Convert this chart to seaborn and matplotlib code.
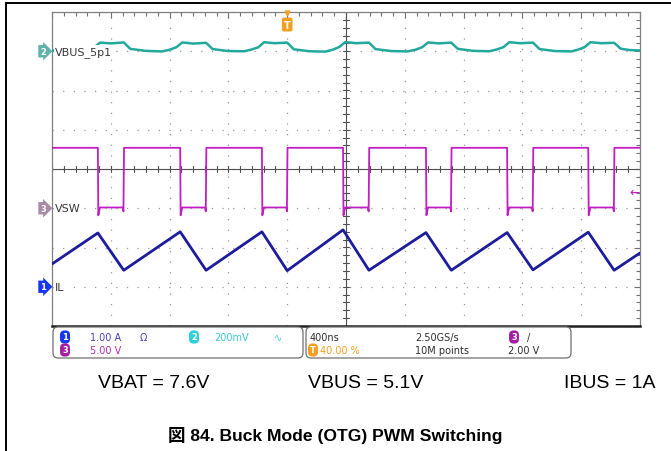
import numpy as np
import pandas as pd
import matplotlib
matplotlib.use("Agg")
import matplotlib.pyplot as plt
import seaborn as sns
from matplotlib.patches import FancyBboxPatch
from matplotlib.ticker import MultipleLocator

sns.set_style("white")
plt.rcParams["font.family"] = ["DejaVu Sans"]

# scope settings (read from the readout)
time_per_div = 400          # ns/div
t_left, t_right = -1600, 2400  # trigger at 40 % of screen
ch1_scale, ch1_pos = 1.00, -3.0            # IL   (A/div)
ch2_scale, ch2_pos, ch2_offset = 0.200, 3.0, 5.10  # VBUS (V/div)
ch3_scale, ch3_pos = 5.00, -1.0            # VSW  (V/div)
trig_level = 2.00

# VSW switching edges (ns)
vsw_fall = [-1288, -728, -172, 380, 944, 1496, 2048]
vsw_rise = [-1112, -552, 0, 556, 1116, 1672, 2224]
vsw_high = 7.7
vsw_low = 0.1
vsw_dip = -0.9

# inductor current vertices (ns, A)
il_t = [-1600, -1288, -1112, -728, -552, -172, 0, 380, 556, 944, 1116, 1496, 1672, 2048, 2224, 2400]
il_a = [0.58, 1.37, 0.42, 1.40, 0.42, 1.40, 0.41, 1.45, 0.42, 1.38, 0.42, 1.38, 0.43, 1.39, 0.42, 0.86]

# VBUS ripple vertices (ns, V)
vbus_t = [-1600, -1450, -1360,
          -1313, -1273, -1200, -1112, -1067, -962, -852, -798,
          -753, -713, -640, -552, -507, -402, -292, -242,
          -197, -157, -86, 0, 45, 150, 260, 310,
          355, 395, 468, 556, 601, 706, 816, 874,
          919, 959, 1030, 1116, 1161, 1266, 1376, 1426,
          1471, 1511, 1584, 1672, 1717, 1822, 1932, 1978,
          2023, 2063, 2136, 2224, 2269, 2330, 2400]
vbus_v = [5.104, 5.101, 5.108,
          5.120, 5.144, 5.140, 5.145, 5.112, 5.102, 5.099, 5.108,
          5.121, 5.145, 5.139, 5.143, 5.111, 5.101, 5.100, 5.109,
          5.120, 5.146, 5.141, 5.144, 5.110, 5.100, 5.098, 5.108,
          5.122, 5.147, 5.141, 5.144, 5.111, 5.101, 5.099, 5.108,
          5.121, 5.145, 5.140, 5.144, 5.112, 5.102, 5.100, 5.109,
          5.121, 5.146, 5.141, 5.144, 5.111, 5.101, 5.099, 5.108,
          5.121, 5.146, 5.141, 5.143, 5.113, 5.106, 5.104]

# build the switch-node square wave from the edges
vsw_t, vsw_v = [t_left], [vsw_high]
for f, r in zip(vsw_fall, vsw_rise):
    vsw_t += [f, f + 3, f + 14, r - 6, r - 2, r + 2]
    vsw_v += [vsw_high, vsw_dip, vsw_low, vsw_low, -0.4, vsw_high]
vsw_t.append(t_right)
vsw_v.append(vsw_high)

il_df = pd.DataFrame({"t": il_t, "div": ch1_pos + np.array(il_a) / ch1_scale})
vbus_df = pd.DataFrame({"t": vbus_t, "div": ch2_pos + (np.array(vbus_v) - ch2_offset) / ch2_scale})
vsw_df = pd.DataFrame({"t": vsw_t, "div": ch3_pos + np.array(vsw_v) / ch3_scale})

fig = plt.figure(figsize=(6.71, 4.52), dpi=100)
ax = fig.add_axes([52 / 671, 1 - 327 / 452, 588 / 671, 314 / 452])

c_il, c_vbus, c_vsw = "#1c1c9c", "#22a99b", "#c21fc2"
sns.lineplot(data=vbus_df, x="t", y="div", ax=ax, color=c_vbus, lw=1.8,
             estimator=None, sort=False, zorder=3)
sns.lineplot(data=vsw_df, x="t", y="div", ax=ax, color=c_vsw, lw=1.3,
             estimator=None, sort=False, zorder=3)
sns.lineplot(data=il_df, x="t", y="div", ax=ax, color=c_il, lw=2.0,
             estimator=None, sort=False, zorder=3)

ax.set_xlim(t_left, t_right)
ax.set_ylim(-4, 4)
ax.set_xlabel("")
ax.set_ylabel("")
ax.set_xticks(np.arange(t_left, t_right + 1, time_per_div))
ax.set_yticks(np.arange(-4, 5, 1))
ax.xaxis.set_minor_locator(MultipleLocator(time_per_div / 5))
ax.yaxis.set_minor_locator(MultipleLocator(0.2))
ax.tick_params(which="both", direction="in", top=True, right=True,
               labelbottom=False, labelleft=False, color="#707070", width=0.8)
ax.tick_params(which="major", length=4)
ax.tick_params(which="minor", length=3)
ax.grid(True, which="major", color="#9a9a9a", linestyle=(0, (1, 7.5)), lw=0.9)
for s in ax.spines.values():
    s.set_color("#808080")
    s.set_linewidth(0.9)
ax.spines["bottom"].set_color("#202020")
ax.spines["bottom"].set_linewidth(1.8)

# centre cross with ticks
t_mid = t_left + 5 * time_per_div
ax.axhline(0, color="#505050", lw=0.8, zorder=2)
ax.axvline(t_mid, color="#505050", lw=0.8, zorder=2)
for x in np.arange(t_left, t_right + 1, time_per_div / 5):
    ax.plot([x, x], [-0.08, 0.08], color="#505050", lw=0.8, zorder=2)
for y in np.arange(-4, 4.01, 0.2):
    ax.plot([t_mid - 22, t_mid + 22], [y, y], color="#505050", lw=0.8, zorder=2)

# channel names
lab_kw = dict(ha="left", va="center", fontsize=8, color="#383838", zorder=4,
              bbox=dict(fc="white", ec="none", pad=0.6))
ax.text(t_left + 18, ch2_pos, "VBUS_5p1", **lab_kw)
ax.text(t_left + 18, ch3_pos, "VSW", **lab_kw)
ax.text(t_left + 18, ch1_pos, "IL", **lab_kw)

# channel ground badges
for pos, num, col in [(ch2_pos, "2", "#63b2aa"), (ch3_pos, "3", "#a68aa6"), (ch1_pos, "1", "#1838f0")]:
    ax.text(t_left - 62, pos, num, ha="center", va="center", fontsize=6, color="white",
            fontweight="bold", clip_on=False,
            bbox=dict(boxstyle="rarrow,pad=0.2", fc=col, ec="none"))

# trigger markers
ax.text(0, 3.68, "T", ha="center", va="center", fontsize=7, color="white", fontweight="bold",
        bbox=dict(boxstyle="round,pad=0.2", fc="#f2a024", ec="none"), zorder=5)
ax.plot([0], [3.97], marker="v", ms=3.5, color="#f2a024", clip_on=False, zorder=5)
ax.text(t_right - 35, ch3_pos + trig_level / ch3_scale, "\u2190", ha="center", va="center",
        fontsize=9, color=c_vsw)

# overlay in pixel coordinates for readout and captions
ov = fig.add_axes([0, 0, 1, 1])
ov.set_xlim(0, 671)
ov.set_ylim(452, 0)
ov.axis("off")

ov.plot([6, 6], [3.5, 452], color="black", lw=1.4)
ov.plot([6, 671], [3.5, 3.5], color="black", lw=1.4)

for x0, x1 in [(53, 303), (306, 571)]:
    ov.add_patch(FancyBboxPatch((x0, 328), x1 - x0, 31, boxstyle="round,pad=0,rounding_size=5",
                                fc="white", ec="#707070", lw=0.9))

def badge(x, y, s, col):
    ov.text(x, y, s, ha="center", va="center", fontsize=6, color="white", fontweight="bold",
            bbox=dict(boxstyle="round,pad=0.25,rounding_size=0.55", fc=col, ec="none"))

rd = dict(va="center", ha="left", fontsize=7)
badge(65, 338, "1", "#1838f0")
ov.text(90, 338, "1.00 A", color="#4545b8", **rd)
ov.text(140, 338, "\u03a9", color="#4545b8", **rd)
badge(194, 338, "2", "#2fd0dc")
ov.text(214, 338, "200mV", color="#3cc8d6", **rd)
ov.text(274, 338, "\u223f", color="#3cc8d6", **rd)
badge(65, 351, "3", "#a21fa2")
ov.text(90, 351, "5.00 V", color="#a833a8", **rd)

ov.text(310, 338, "400ns", color="#303030", **rd)
badge(313, 351, "T", "#f2a024")
ov.text(320, 351, "40.00 %", color="#f2a024", **rd)
ov.text(415, 338, "2.50GS/s", color="#303030", **rd)
ov.text(415, 351, "10M points", color="#303030", **rd)
badge(514, 338, "3", "#a21fa2")
ov.text(527, 338, "/", color="#303030", **rd)
ov.text(508, 351, "2.00 V", color="#303030", **rd)

cap = dict(va="center", fontsize=14, color="black", family=["Liberation Sans", "DejaVu Sans"])
ov.text(98, 384, "VBAT = 7.6V", ha="left", **cap)
ov.text(308, 384, "VBUS = 5.1V", ha="left", **cap)
ov.text(655, 384, "IBUS = 1A", ha="right", **cap)
ov.text(335, 436, "\u56f3 84. Buck Mode (OTG) PWM Switching", ha="center", va="center",
        fontsize=12.6, fontweight="bold", color="black",
        family=["Liberation Sans", "Noto Sans CJK JP"])

fig.savefig("out.png", dpi=100)
